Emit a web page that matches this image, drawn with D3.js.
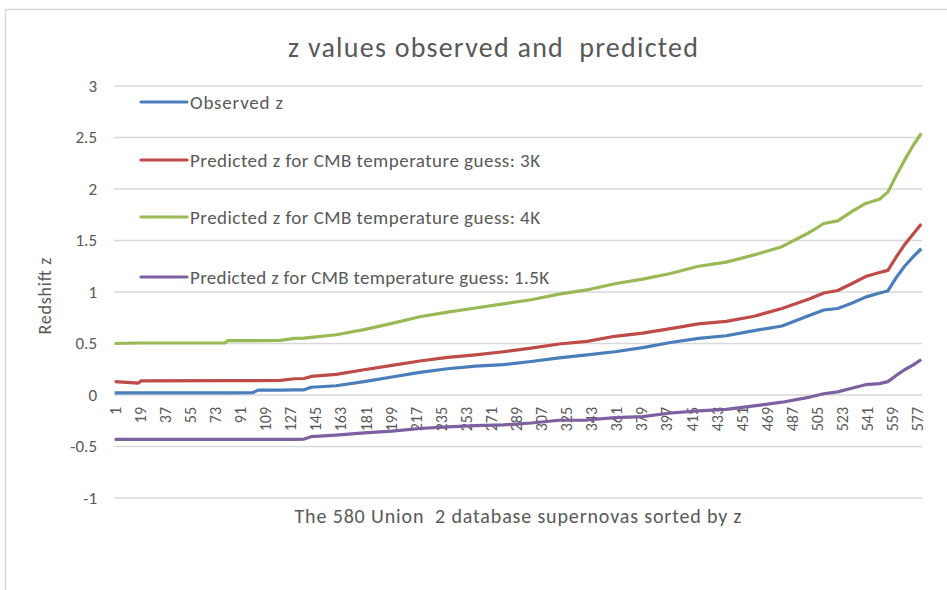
<!DOCTYPE html>
<html>
<head>
<meta charset="utf-8">
<script src="https://cdn.jsdelivr.net/npm/d3@7"></script>
<style>
  body { margin: 0; background: #fff; }
  svg { display: block; }
</style>
</head>
<body>
<svg id="chart" width="947" height="590"></svg>
<script>
const sampleIdx = [1, 18, 20, 80, 82, 100, 104, 120, 130, 137, 142, 160, 180, 200, 220, 240, 260, 280, 300, 320, 340, 360, 380, 400, 420, 440, 460, 480, 500, 510, 520, 530, 540, 550, 556, 562, 568, 574, 580];

const observedZ = [0.02, 0.02, 0.02, 0.02, 0.02, 0.022, 0.047, 0.048, 0.05, 0.05, 0.075, 0.09, 0.13, 0.175, 0.22, 0.255, 0.28, 0.295, 0.325, 0.36, 0.39, 0.42, 0.46, 0.51, 0.55, 0.575, 0.625, 0.67, 0.775, 0.825, 0.84, 0.89, 0.95, 0.99, 1.01, 1.14, 1.25, 1.34, 1.42];
const predicted3K = [0.13, 0.115, 0.138, 0.14, 0.14, 0.14, 0.14, 0.142, 0.158, 0.16, 0.18, 0.2, 0.245, 0.288, 0.33, 0.365, 0.39, 0.42, 0.455, 0.495, 0.52, 0.57, 0.6, 0.645, 0.69, 0.715, 0.765, 0.84, 0.935, 0.99, 1.015, 1.08, 1.15, 1.19, 1.21, 1.34, 1.46, 1.56, 1.66];
const predicted4K = [0.5, 0.505, 0.505, 0.505, 0.527, 0.528, 0.528, 0.53, 0.55, 0.552, 0.56, 0.585, 0.635, 0.695, 0.76, 0.805, 0.845, 0.885, 0.925, 0.98, 1.02, 1.08, 1.125, 1.18, 1.25, 1.29, 1.36, 1.44, 1.58, 1.665, 1.69, 1.78, 1.86, 1.9, 1.97, 2.13, 2.28, 2.42, 2.54];
const predicted15K = [-0.43, -0.43, -0.43, -0.43, -0.43, -0.43, -0.43, -0.43, -0.43, -0.428, -0.405, -0.39, -0.368, -0.35, -0.325, -0.31, -0.298, -0.29, -0.272, -0.245, -0.243, -0.22, -0.21, -0.175, -0.155, -0.14, -0.105, -0.07, -0.02, 0.012, 0.03, 0.065, 0.1, 0.11, 0.13, 0.19, 0.245, 0.29, 0.345];

const seriesNames = [
  "Observed z",
  "Predicted z for CMB temperature guess: 3K",
  "Predicted z for CMB temperature guess: 4K",
  "Predicted z for CMB temperature guess: 1.5K",
];
const seriesValues = [observedZ, predicted3K, predicted4K, predicted15K];
const seriesColors = ["#4a7ebb", "#be4b48", "#98b954", "#7d60a0"];

const yTicks = [-1, -0.5, 0, 0.5, 1, 1.5, 2, 2.5, 3];
const xTicks = d3.range(1, 581, 18); // 1, 19, 37 ... 577

const textColor = "#595959";
const gridColor = "#d9d9d9";
const font = "Carlito, 'Liberation Sans Narrow', 'Noto Sans', sans-serif";

const svg = d3.select("#chart");
const margin = { top: 86, right: 25, bottom: 92, left: 114 };
const width = 947;
const height = 590;
const innerWidth = width - margin.left - margin.right;
const innerHeight = height - margin.top - margin.bottom;

// chart area border, only top and left edges are inside the picture
svg.append("path")
  .attr("d", `M5.5,${height}V9.5H${width}`)
  .attr("fill", "none")
  .attr("stroke", gridColor)
  .attr("stroke-width", 1.5);

const x = d3.scaleLinear().domain([0.5, 580.5]).range([0, innerWidth]);
const y = d3.scaleLinear().domain([-1, 3]).range([innerHeight, 0]);

const g = svg.append("g")
  .attr("transform", `translate(${margin.left},${margin.top})`);

// gridlines
g.append("g")
  .selectAll("line")
  .data(yTicks)
  .join("line")
  .attr("x1", 0)
  .attr("x2", innerWidth)
  .attr("y1", (d) => y(d))
  .attr("y2", (d) => y(d))
  .attr("stroke", gridColor)
  .attr("stroke-width", 1.5);

// y axis labels
const yAxis = d3.axisLeft(y).tickValues(yTicks).tickSize(0).tickPadding(17)
  .tickFormat((d) => `${d}`);
g.append("g")
  .call(yAxis)
  .call((s) => s.select(".domain").remove())
  .selectAll("text")
  .attr("fill", textColor)
  .style("font-family", font)
  .style("font-size", "17px");

// x axis category labels, rotated, hanging from the zero line
const xAxis = d3.axisBottom(x).tickValues(xTicks).tickSize(0).tickFormat((d) => `${d}`);
g.append("g")
  .attr("transform", `translate(0,${y(0)})`)
  .call(xAxis)
  .call((s) => s.select(".domain").remove())
  .selectAll("text")
  .attr("fill", textColor)
  .style("font-family", font)
  .style("font-size", "16px")
  .attr("transform", "rotate(-90)")
  .attr("text-anchor", "end")
  .attr("x", -12)
  .attr("y", 0)
  .attr("dy", "0.35em");

// series lines (drawn over the category labels, as in the original)
const line = d3.line()
  .x((d, i) => x(sampleIdx[i]))
  .y((d) => y(d));

g.append("g")
  .selectAll("path")
  .data(seriesValues)
  .join("path")
  .attr("d", (d) => line(d))
  .attr("fill", "none")
  .attr("stroke", (d, i) => seriesColors[i])
  .attr("stroke-width", 3.2)
  .attr("stroke-linejoin", "round");

// legend
const legendY = [102, 160, 217, 277];
const legendTextLen = [93, 350, 350, 359];
const legend = svg.append("g")
  .selectAll("g")
  .data(seriesNames)
  .join("g")
  .attr("transform", (d, i) => `translate(141,${legendY[i]})`);

legend.append("line")
  .attr("x1", 0)
  .attr("x2", 46)
  .attr("stroke", (d, i) => seriesColors[i])
  .attr("stroke-width", 3.2)
  .attr("stroke-linecap", "round");

legend.append("text")
  .attr("x", 49)
  .attr("dy", "0.35em")
  .attr("fill", textColor)
  .attr("textLength", (d, i) => legendTextLen[i])
  .attr("lengthAdjust", "spacing")
  .style("font-family", font)
  .style("font-size", "19px")
  .text((d) => d);

// title
svg.append("text")
  .attr("x", 493)
  .attr("y", 57)
  .attr("text-anchor", "middle")
  .attr("fill", textColor)
  .attr("textLength", 410)
  .attr("lengthAdjust", "spacing")
  .style("font-family", font)
  .style("font-size", "28px")
  .style("white-space", "pre")
  .text("z values observed and  predicted");

// y axis title
svg.append("text")
  .attr("transform", `translate(51,${margin.top + innerHeight / 2 + 4}) rotate(-90)`)
  .attr("text-anchor", "middle")
  .attr("fill", textColor)
  .attr("textLength", 77)
  .attr("lengthAdjust", "spacing")
  .style("font-family", font)
  .style("font-size", "18px")
  .text("Redshift z");

// x axis title
svg.append("text")
  .attr("x", margin.left + innerWidth / 2)
  .attr("y", 523)
  .attr("text-anchor", "middle")
  .attr("fill", textColor)
  .attr("textLength", 447)
  .attr("lengthAdjust", "spacing")
  .style("font-family", font)
  .style("font-size", "20px")
  .style("white-space", "pre")
  .text("The 580 Union  2 database supernovas sorted by z");
</script>
</body>
</html>
